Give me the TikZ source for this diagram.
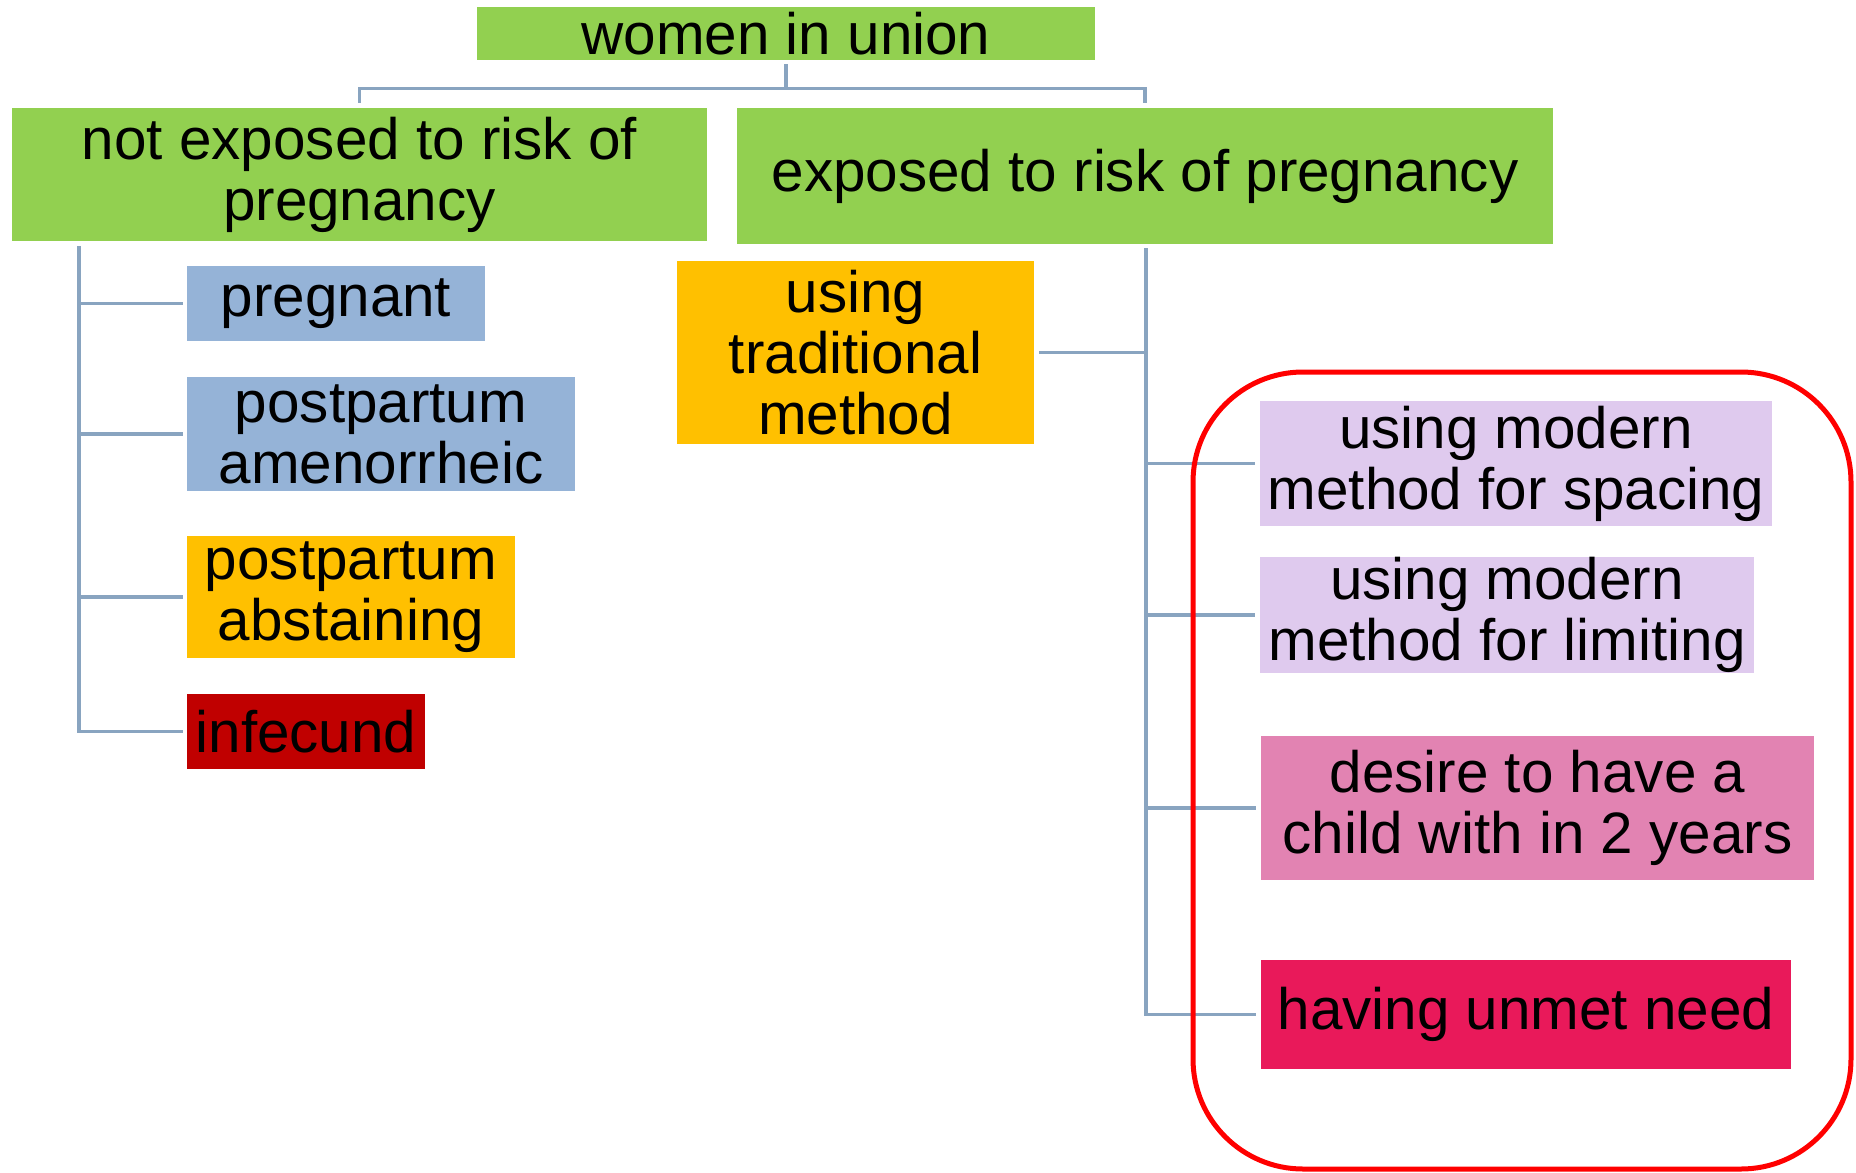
\documentclass[tikz,border=0pt]{standalone}
\usepackage{fontspec}
\setmainfont{Liberation Sans}
\definecolor{cgreen}{RGB}{146,208,80}
\definecolor{cblue}{RGB}{149,179,215}
\definecolor{corange}{RGB}{255,192,0}
\definecolor{cdred}{RGB}{192,0,0}
\definecolor{clav}{RGB}{223,202,238}
\definecolor{cpink}{RGB}{226,131,178}
\definecolor{ccrim}{RGB}{233,25,90}
\definecolor{cconn}{RGB}{137,164,192}
\definecolor{cframe}{RGB}{255,0,0}
\tikzset{
  box/.style={rectangle, inner sep=0pt, align=center, text=black,
    font=\fontsize{29.2}{30.5}\selectfont},
  conn/.style={draw=cconn, line width=1.75pt},
}
\begin{document}
\begin{tikzpicture}[x=0.5pt, y=-0.5pt]
\useasboundingbox (0,0) rectangle (1856,1172);
% boxes
\node[box, fill=cgreen, minimum width=309pt, minimum height=26.5pt] (women) at (786,33.5) {women in union};
\node[box, fill=cgreen, minimum width=347.5pt, minimum height=66.5pt] (notexp) at (359.5,174.5) {not exposed to risk of\\pregnancy};
\node[box, fill=cgreen, minimum width=408pt, minimum height=68pt] (exp) at (1145,176) {exposed to risk of pregnancy};
\node[box, fill=cblue, minimum width=149pt, minimum height=37.5pt] (preg) at (336,303.5) {pregnant};
\node[box, fill=cblue, minimum width=194pt, minimum height=57pt] (amen) at (381,434) {postpartum\\amenorrheic};
\node[box, fill=corange, minimum width=164pt, minimum height=61pt] (abst) at (351,597) {postpartum\\abstaining};
\node[box, fill=cdred, minimum width=119pt, minimum height=37.5pt] (infec) at (306,731.5) {infecund};
\node[box, fill=corange, minimum width=178.5pt, minimum height=91.5pt] (trad) at (855.5,352.5) {using\\traditional\\method};
\node[box, fill=clav, minimum width=256pt, minimum height=62.5pt] (spac) at (1516,463.5) {using modern\\method for spacing};
\node[box, fill=clav, minimum width=247pt, minimum height=53pt] (limit) at (1507,615) {using modern\\method for limiting};
\node[box, fill=cpink, minimum width=276.5pt, minimum height=72pt] (desire) at (1537.5,808) {desire to have a\\child with in 2 years};
\node[box, fill=ccrim, minimum width=265pt, minimum height=54.5pt] (unmet) at (1526,1014.5) {having unmet need};
% top connectors
\draw[conn] ([yshift=-2pt]women.south) -- ++(0,-12.5pt);
\draw[conn] ([yshift=2.5pt]notexp.north) -- ++(0,7pt) -| ([yshift=2.5pt]exp.north);
% left trunk
\coordinate (ltop) at (79,246);
\draw[conn] (ltop) |- ([xshift=-2pt]infec.west);
\draw[conn] (ltop |- preg.west) -- ([xshift=-2pt]preg.west);
\draw[conn] (ltop |- amen.west) -- ([xshift=-2pt]amen.west);
\draw[conn] (ltop |- abst.west) -- ([xshift=-2pt]abst.west);
% right trunk
\coordinate (rtop) at (1146,248);
\draw[conn] (rtop) |- ([xshift=-2.5pt]unmet.west);
\draw[conn] ([xshift=2.5pt]trad.east) -- (rtop |- trad.east);
\draw[conn] (rtop |- spac.west) -- ([xshift=-2.5pt]spac.west);
\draw[conn] (rtop |- limit.west) -- ([xshift=-2.5pt]limit.west);
\draw[conn] (rtop |- desire.west) -- ([xshift=-2.5pt]desire.west);
% red frame
\draw[draw=cframe, line width=2.5pt, rounded corners=55pt] (1193,372) rectangle (1851,1169);
\end{tikzpicture}
\end{document}
